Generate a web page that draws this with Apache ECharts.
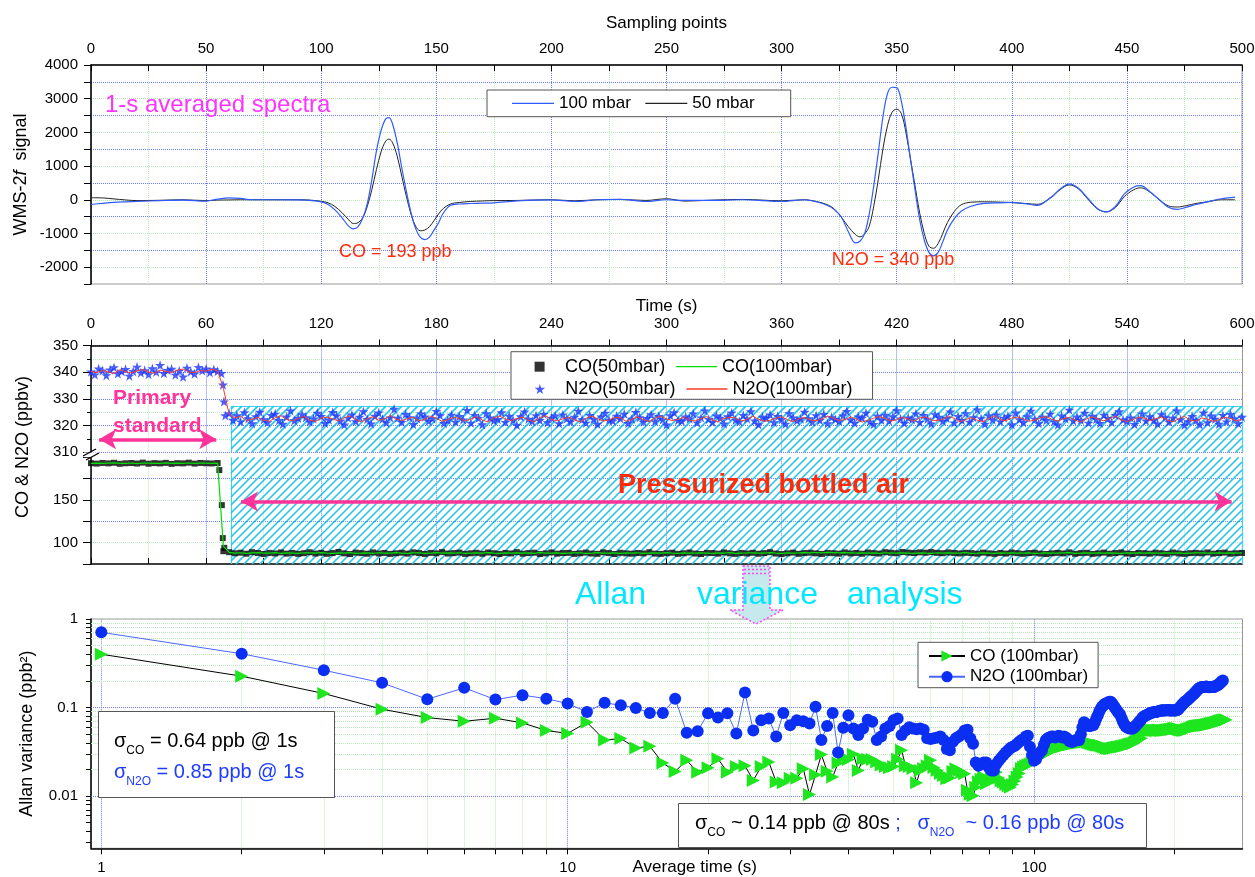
<!DOCTYPE html>
<html><head><meta charset="utf-8">
<script src="https://cdn.jsdelivr.net/npm/echarts@6/dist/echarts.min.js"></script>
<style>html,body{margin:0;padding:0;background:#fff}#c{width:1255px;height:877px}</style>
</head><body><div id="c"></div><script>
// ---------- Panel 1: WMS-2f spectra ----------
const specS = [0,5,10,15,20,30,40,50,55,60,65,70,80,90,95,100,103,106,109,112,114,116,118,120,122,124,126,128,129.5,131,133,135,137,139,141,143,145,147,149,151,153,156,160,165,170,175,185,200,210,220,230,241,250,258,270,283,300,310,315,320,323,326,329,332,334,336,338,340,342,344,346,348,350,352,354,356,358,360,362,364,366,368,370,372,375,378,382,388,395,400,406,411,417,421,425,429,433,437,441,445,449,453,456,460,464,468,472,476,480,485,491,497];
const spec50 = [60,55,25,-5,-25,-15,0,-25,-10,-5,0,0,0,0,-10,-45,-90,-200,-380,-600,-705,-680,-540,-200,300,900,1420,1740,1800,1690,1300,700,100,-420,-780,-920,-900,-800,-620,-420,-260,-130,-80,-50,-35,-25,-20,0,-30,0,10,-20,30,-40,-10,10,-30,0,-50,-150,-280,-520,-800,-1030,-1100,-1020,-800,-200,600,1500,2200,2600,2690,2560,2000,1200,400,-400,-1000,-1380,-1440,-1300,-1000,-680,-350,-150,-75,-60,-70,-85,-110,-135,60,300,440,320,20,-260,-360,-230,100,300,355,230,0,-180,-215,-170,-110,-60,0,0];
const spec100 = [-140,-105,-75,-60,-50,-25,-10,-40,20,55,40,0,0,-5,-20,-60,-140,-300,-530,-790,-866,-800,-550,-120,600,1450,2050,2400,2440,2250,1700,950,250,-380,-850,-1110,-1180,-1110,-900,-680,-400,-170,-125,-110,-100,-90,-35,-5,-50,0,10,-50,0,-20,-20,0,-50,0,-60,-170,-300,-520,-950,-1280,-1230,-1020,-450,400,1400,2450,3150,3340,3330,2930,2150,1200,280,-600,-1200,-1560,-1663,-1560,-1250,-905,-560,-340,-200,-105,-90,-80,-118,-165,75,320,470,340,50,-250,-360,-200,180,380,420,240,10,-220,-285,-220,-140,-60,30,80];

// ---------- Panel 2: time series (N2O 50 mbar every 2 s, others every 3 s) ----------
const n2o50Step = 2;
const n2o50 = [340.2,339.1,341.3,340.6,338.8,340.9,341.8,339.5,340.3,341.1,338.6,340.4,342.0,339.8,340.7,339.2,341.4,340.1,342.6,339.6,340.8,341.2,339.0,340.5,338.3,341.6,340.2,339.4,341.9,340.6,341.3,339.9,341.0,340.4,
339.6,323.8,
324.6,322.1,323.8,321.5,324.9,322.7,320.8,323.4,325.1,322.3,
321.2,323.9,324.4,322.0,320.6,323.3,325.6,321.9,322.8,324.2,
323.1,321.4,322.6,324.7,323.5,320.9,322.2,325.0,323.7,321.8,
320.3,322.9,324.1,321.6,323.2,325.3,322.4,320.7,323.6,324.8,
322.5,321.1,323.0,326.2,322.9,321.3,324.3,323.1,320.5,322.7,
324.5,323.3,321.7,322.6,325.4,323.8,320.9,322.0,324.0,321.4,
323.5,322.2,325.8,321.0,323.9,322.8,320.4,324.6,323.0,321.9,
322.4,324.9,321.3,323.6,322.1,320.2,323.4,325.2,322.5,321.6,
323.8,322.0,324.3,321.2,322.9,323.7,320.8,324.1,322.6,321.5,
323.2,325.5,322.3,321.0,323.9,322.4,320.6,323.3,324.7,322.1,
321.8,323.6,322.7,324.4,320.9,322.5,325.0,323.1,321.4,322.8,
324.2,321.6,323.5,322.2,320.3,323.8,324.9,322.0,321.7,323.3,
322.6,324.5,321.1,323.0,325.6,322.4,321.3,323.7,322.9,320.7,
323.4,324.8,322.1,321.5,323.9,322.6,325.3,321.8,320.4,323.2,
322.8,324.1,321.2,323.5,322.3,320.6,324.6,323.0,321.9,322.5,
325.1,322.7,321.4,323.8,322.0,324.3,320.8,323.1,322.4,321.6,
323.7,325.4,322.2,321.0,323.3,322.9,324.7,321.5,320.5,323.6,
322.1,324.0,321.8,323.4,325.7,322.6,320.9,323.0,322.3,324.5,
321.3,323.9,322.5,320.7,324.2,323.2,321.7,322.8,325.2,321.1,
323.5,322.0,324.6,321.4,323.1,326.0,322.7,320.6,323.8,322.2,
324.1,321.6,322.9,323.6,320.4,324.8,322.3,321.2,323.4,325.5,
322.5,320.8,323.2,322.0,324.4,321.5,320.3,323.7,322.6,325.9,
321.9,323.3,322.1,324.7,321.0,323.6,322.4,320.9,324.0,322.8,
321.3,323.9,325.3,322.2,321.7,323.0,320.5,322.6,324.5,321.8,
323.4,322.1,320.7,324.2,323.1,321.4,322.9,325.6,322.3,320.2,
321.6,323.5,322.0,320.4,324.8,321.2,323.7,322.5,320.6,323.9,
321.5,324.3,322.7,320.8,323.2];
const n2o50TransT = [68.8, 69.3];
const n2o50TransV = [335.3, 329.0];

const stepB = 3;
const n2o100 = [340.3,339.8,340.6,340.1,339.5,340.9,340.2,339.7,340.5,341.0,340.0,339.6,340.8,340.3,339.9,340.7,341.2,340.1,339.8,340.6,340.4,341.1,340.5,
334.0,324.2,
322.8,323.5,321.9,322.4,323.1,322.0,321.6,322.9,323.7,322.3,
321.8,322.6,323.4,322.1,321.5,322.8,323.2,322.5,321.7,322.9,
323.6,322.2,321.4,322.7,323.3,322.0,322.5,323.8,322.4,321.9,
322.6,323.1,321.8,322.3,323.5,322.7,321.6,322.2,323.0,322.8,
321.7,322.5,323.4,322.1,321.3,322.9,323.6,322.4,321.9,322.6,
323.2,322.0,321.5,322.8,323.7,322.3,321.8,322.5,323.1,322.2,
321.4,322.7,323.5,322.6,321.7,322.1,323.0,322.9,321.6,322.4,
323.3,322.2,321.5,322.8,323.6,322.5,321.9,322.3,323.2,322.0,
321.8,322.6,323.4,322.1,321.4,322.7,323.1,322.9,321.7,322.3,
323.5,322.4,321.6,322.0,322.8,323.3,322.2,321.5,322.6,323.0,
322.1,321.8,322.5,323.6,322.7,321.9,322.3,323.2,322.4,321.3,
322.0,322.8,323.4,322.6,321.7,322.2,323.1,322.5,321.6,322.9,
323.3,322.1,321.8,322.4,323.5,322.7,321.4,322.3,323.0,322.0,
321.5,322.6,323.7,322.2,321.9,322.8,323.2,322.5,321.6,322.1,
322.9,323.4,322.3,321.7,322.6,323.1,322.0,321.3,322.5,323.3,
322.4,321.8,322.7,323.6,322.2,321.5,322.3,323.0,322.8,321.9,
322.6,323.2,322.1,321.4,322.5,323.5,322.0,321.7,322.9,322.4,
321.6,322.2,323.1,322.7,321.8,322.3];
const co50 = [193.1,192.6,193.4,192.9,193.6,192.4,193.0,193.3,192.7,193.8,192.5,193.2,192.8,193.5,192.3,193.1,192.9,193.7,192.6,193.4,193.0,192.8,193.3,
90.0,88.9,
87.6,88.3,87.1,88.9,87.9,86.8,88.1,87.4,88.6,87.2,
88.0,86.9,87.7,88.8,87.3,88.2,87.0,87.9,89.1,87.5,
86.7,88.4,87.8,87.1,88.6,87.4,88.0,86.9,87.6,88.3,
87.2,88.7,87.9,86.8,88.1,87.5,89.0,87.3,87.8,88.4,
86.9,87.6,88.2,87.0,88.5,87.7,86.8,88.0,87.4,88.9,
87.1,87.8,88.3,86.7,87.5,88.6,87.2,87.9,88.1,86.9,
87.6,88.4,87.3,87.0,88.7,87.8,86.8,88.2,87.5,87.1,
88.0,87.4,88.8,87.2,86.9,87.7,88.3,87.0,87.6,88.5,
87.3,86.8,88.1,87.9,87.2,88.6,87.5,86.9,88.0,87.4,
88.2,87.1,87.8,88.9,87.3,86.7,87.6,88.4,87.0,87.9,
88.3,87.5,86.9,88.1,87.7,87.2,88.6,87.4,88.0,87.1,
88.5,87.8,87.3,88.9,88.2,87.6,89.1,88.4,87.9,88.7,
88.3,89.0,88.1,87.7,88.6,88.0,87.4,88.2,87.8,87.1,
88.4,87.6,86.9,88.0,87.3,88.5,87.7,87.0,87.9,88.3,
87.2,86.8,87.6,88.1,87.4,88.7,87.0,87.8,88.2,86.9,
87.5,88.4,87.1,87.9,88.6,87.3,86.8,88.0,87.7,87.2,
88.3,87.6,87.0,88.5,87.4,86.9,87.8,88.1,87.5,88.6,
87.2,87.9,88.4,87.1,87.7,88.0];
const co50TransT = [66.9, 68.2, 68.7, 69.5];
const co50TransV = [185, 144, 105.4, 94];
const co100 = [193.0,193.2,192.8,193.1,193.4,192.9,193.0,193.3,192.7,193.1,193.2,192.9,193.0,193.4,192.8,193.1,193.0,193.3,192.9,193.2,193.1,192.8,193.2,
96.0,88.6,
87.8,88.2,87.6,88.0,88.4,87.7,87.9,88.3,87.5,88.1,
87.9,87.6,88.2,88.0,87.7,88.4,87.8,87.5,88.1,87.9,
88.3,87.6,87.8,88.0,87.4,88.2,87.9,87.7,88.3,87.8,
87.6,88.1,88.0,87.5,87.9,88.4,87.7,88.0,87.8,88.2,
87.6,87.9,88.1,87.7,88.3,87.8,87.5,88.0,87.9,88.2,
87.7,88.0,87.6,88.3,87.9,87.8,88.1,87.5,87.9,88.2,
88.0,87.6,87.8,88.4,87.7,87.9,88.1,87.6,88.0,87.8,
88.2,87.5,87.9,88.1,87.7,88.3,87.8,87.6,88.0,87.9,
87.7,88.2,87.9,87.5,88.1,87.8,88.3,87.6,87.9,88.0,
88.2,87.7,87.9,88.4,87.8,87.6,88.1,87.9,88.0,88.3,
88.1,88.5,88.2,88.6,88.3,88.0,88.4,88.2,87.9,88.1,
87.8,88.0,87.6,88.2,87.9,87.7,88.1,87.8,87.5,88.0,
87.9,87.6,88.2,87.8,88.0,87.7,87.9,88.3,87.6,87.8,
88.1,87.9,87.5,88.0,87.8,88.2,87.7,87.9,88.1,87.6,
87.8,88.2,87.9,87.7,88.0,88.3,87.6,87.9,88.1,87.8,
88.0,87.7,88.2,87.9,87.5,88.1,87.8,88.0,87.9,88.2,
87.7,87.9,88.1,87.8,88.0,87.6,87.9,88.2,88.0,87.7,
87.9,88.1,87.8,88.0,87.9,88.2];
// annotation regions (data units): [tStart, yTop, tEnd, yBottom]
const bottledUpper = [73, 327.3, 600, 310];
const bottledLower = [73, 200, 600, 75];
const primaryArrowY = 314.85, bottledArrowY = 148.2;

// ---------- Panel 3: Allan variance, tau = 1,2,3,... s ----------
const allanN2O = [0.707,0.405,0.264,0.19,0.124,0.167,0.123,0.138,0.126,0.111,
0.089,0.113,0.106,0.099,0.087,0.087,0.126,0.052,0.054,0.086,
0.077,0.086,0.051,0.148,0.055,0.072,0.075,0.047,0.087,0.063,
0.072,0.070,0.066,0.102,0.043,0.062,0.087,0.031,0.059,0.082,
0.058,0.049,0.058,0.073,0.069,0.043,0.047,0.058,0.062,0.072,
0.075,0.049,0.055,0.060,0.058,0.057,0.058,0.056,0.045,0.044,
0.045,0.046,0.047,0.043,0.034,0.033,0.041,0.045,0.047,0.050,
0.055,0.056,0.045,0.039,0.024,0.022,0.023,0.024,0.024,0.021,
0.0195,0.0195,0.023,0.025,0.027,0.029,0.031,0.033,0.035,0.036,
0.037,0.039,0.041,0.043,0.044,0.047,0.048,0.036,0.029,0.025,
0.026,0.029,0.031,0.033,0.038,0.043,0.045,0.046,0.047,0.047,
0.046,0.047,0.048,0.047,0.046,0.047,0.046,0.044,0.042,0.041,
0.041,0.042,0.043,0.043,0.043,0.050,0.060,0.068,0.066,0.064,
0.062,0.062,0.063,0.063,0.068,0.075,0.082,0.090,0.097,0.103,
0.107,0.110,0.111,0.114,0.116,0.116,0.112,0.106,0.100,0.095,
0.090,0.087,0.083,0.076,0.070,0.065,0.062,0.060,0.059,0.058,
0.058,0.058,0.058,0.060,0.062,0.064,0.066,0.069,0.071,0.074,
0.077,0.079,0.081,0.082,0.083,0.084,0.086,0.087,0.088,0.088,
0.089,0.089,0.089,0.090,0.091,0.092,0.092,0.093,0.093,0.092,
0.093,0.093,0.093,0.094,0.093,0.092,0.093,0.093,0.093,0.092,
0.093,0.093,0.094,0.096,0.099,0.102,0.105,0.108,0.111,0.114,
0.117,0.119,0.121,0.124,0.127,0.130,0.133,0.136,0.139,0.142,
0.146,0.150,0.154,0.158,0.162,0.165,0.167,0.169,0.170,0.171,
0.171,0.171,0.172,0.173,0.172,0.171,0.170,0.170,0.171,0.171,
0.172,0.172,0.171,0.172,0.174,0.176,0.178,0.180,0.183,0.186,
0.190,0.194,0.198,0.202];
const allanCO = [0.40,0.226,0.144,0.0957,0.077,0.070,0.0757,0.067,0.055,0.051,
0.068,0.043,0.0446,0.035,0.0365,0.0236,0.019,0.0253,0.0186,0.0209,
0.0264,0.0186,0.0216,0.022,0.015,0.0216,0.0242,0.0144,0.0141,0.0159,
0.0159,0.0204,0.0104,0.0174,0.0294,0.0191,0.0164,0.0236,0.0276,0.0258,
0.0296,0.0195,0.0264,0.026,0.0258,0.0242,0.0225,0.0216,0.0209,0.0216,
0.026,0.033,0.022,0.0216,0.0205,0.0141,0.0195,0.0205,0.022,0.0253,
0.021,0.0195,0.018,0.0171,0.0157,0.016,0.019,0.0204,0.0195,0.0185,
0.0179,0.0116,0.0105,0.0101,0.0126,0.0145,0.0155,0.0164,0.0138,0.0145,
0.016,0.0175,0.0186,0.016,0.0148,0.0144,0.0135,0.013,0.0126,0.0135,
0.0148,0.0164,0.018,0.0205,0.0213,0.022,0.0225,0.023,0.0238,0.0245,
0.0262,0.027,0.0278,0.0285,0.0292,0.030,0.031,0.032,0.0328,0.0335,
0.034,0.035,0.0355,0.0358,0.0362,0.0368,0.0372,0.0378,0.038,0.0385,
0.039,0.0392,0.0395,0.0398,0.040,0.0403,0.0405,0.0408,0.041,0.0405,
0.040,0.0395,0.039,0.0385,0.038,0.0378,0.0376,0.0375,0.037,0.0365,
0.036,0.0355,0.035,0.0346,0.0343,0.0345,0.0347,0.035,0.0352,0.0355,
0.0357,0.0358,0.036,0.0363,0.0366,0.037,0.0373,0.0376,0.038,0.0384,
0.0388,0.039,0.0392,0.040,0.041,0.042,0.043,0.044,0.0446,0.045,
0.052,0.058,0.057,0.056,0.0555,0.0553,0.0553,0.0555,0.0553,0.0553,
0.0555,0.0552,0.055,0.0553,0.0556,0.0553,0.055,0.0552,0.0555,0.0553,
0.0553,0.0556,0.0558,0.056,0.0563,0.0566,0.0568,0.057,0.0575,0.0578,
0.058,0.0578,0.0575,0.057,0.0565,0.056,0.0558,0.0555,0.0553,0.0553,
0.0555,0.056,0.0565,0.057,0.0575,0.058,0.0585,0.059,0.0598,0.0605,
0.061,0.0613,0.0616,0.062,0.0622,0.0624,0.0626,0.0628,0.063,0.063,
0.063,0.0632,0.0635,0.0638,0.064,0.0643,0.0646,0.065,0.0654,0.0658,
0.066,0.0663,0.0666,0.067,0.0675,0.068,0.0685,0.069,0.0695,0.07,
0.0705,0.071,0.0715,0.0719,0.072,0.0722,0.0725,0.0728];
const allanTickX = [1,2,3,4,5,6,7,8,9,10,20,30,40,50,60,70,80,90,100,200];
const allanMajorX = [1,10,100];
const allanTickY = [0.003,0.004,0.005,0.006,0.007,0.008,0.009,0.01,0.02,0.03,0.04,0.05,0.06,0.07,0.08,0.09,0.1,0.2,0.3,0.4,0.5,0.6,0.7,0.8,0.9,1];
const allanMajorY = [0.01,0.1,1];

// ---------- styling ----------
const FONT = '"Liberation Sans", Arial, Helvetica, sans-serif';
const BLUE_G = '#6f7dff', GREEN_G = '#b9e9b9';
const blueLine = {color: BLUE_G, type: 'dotted', width: 1};
const greenLine = {color: GREEN_G, type: 'dotted', width: 1};
const STAR = 'path://M50,2L61.8,38.2L99.9,38.2L69.1,60.6L80.9,96.8L50,74.4L19.1,96.8L30.9,60.6L0.1,38.2L38.2,38.2Z';
const SQUARE = 'path://M0,0L10,0L10,10L0,10Z';
const LINEICON = 'path://M0,0L42,0L42,1.3L0,1.3Z';
const HATCH = '#22c6ec';

// hatch drawn in pixel space from the corners given by the axes
function renderHatch(params, api) {
  const p0 = api.coord([api.value(0), api.value(1)]);
  const p1 = api.coord([api.value(2), api.value(3)]);
  const x0 = Math.min(p0[0], p1[0]), x1 = Math.max(p0[0], p1[0]);
  const y0 = Math.min(p0[1], p1[1]), y1 = Math.max(p0[1], p1[1]);
  const step = 8;
  let d = '';
  for (let c = Math.floor((x0 + y0) / step) * step; c <= x1 + y1; c += step) {
    const xa = Math.max(x0, c - y1), xb = Math.min(x1, c - y0);
    if (xb <= xa) continue;
    d += 'M' + xa.toFixed(2) + ',' + (c - xa).toFixed(2) + 'L' + xb.toFixed(2) + ',' + (c - xb).toFixed(2);
  }
  return {type: 'path', shape: {pathData: d}, style: {fill: 'none', stroke: HATCH, lineWidth: 1.6}};
}

function logLabel(v) {
  const l = Math.log10(v), r = Math.round(l);
  if (Math.abs(l - r) > 1e-6) return '';
  return r >= 0 ? String(Math.pow(10, r)) : Math.pow(10, r).toFixed(-r);
}
const axBlack = {show: true, onZero: false, lineStyle: {color: '#000', width: 1.5}};
const lbl = (m, extra) => Object.assign({fontSize: 15, color: '#000', margin: m, fontFamily: FONT}, extra || {});

const chart = echarts.init(document.getElementById('c'), null, {renderer: 'canvas'});

const gridMarks = [];
allanTickX.forEach(v => gridMarks.push({xAxis: v, lineStyle: allanMajorX.includes(v) ? blueLine : greenLine}));
allanTickY.filter(v => v < 1).forEach(v => gridMarks.push({yAxis: v, lineStyle: allanMajorY.includes(v) ? blueLine : greenLine}));

const sigmaRich = {
  k: {fill: '#000', fontSize: 20, lineHeight: 31, fontFamily: FONT},
  ks: {fill: '#000', fontSize: 12, lineHeight: 12, verticalAlign: 'bottom', fontFamily: FONT},
  b: {fill: '#1e3cff', fontSize: 20, lineHeight: 31, fontFamily: FONT},
  bs: {fill: '#1e3cff', fontSize: 12, lineHeight: 12, verticalAlign: 'bottom', fontFamily: FONT}
};
const hatchSeries = (xi, yi, box, borders) => ({
  type: 'custom', xAxisIndex: xi, yAxisIndex: yi, silent: true, z: 1, renderItem: renderHatch, data: [box],
  itemStyle: {color: HATCH},
  markLine: {silent: true, z: 1, symbol: 'none', label: {show: false}, lineStyle: {color: '#3fd4ee', width: 1.2, type: 'solid'}, data: borders}
});

const option = {
  animation: false,
  textStyle: {fontFamily: FONT, color: '#000'},
  grid: [
    {left: 91, top: 65, width: 1151, height: 219, show: true, borderColor: '#999', borderWidth: 1, outerBoundsMode: 'none'},
    {left: 91, top: 345.5, width: 1151, height: 106.8, outerBoundsMode: 'none'},
    {left: 91, top: 457.3, width: 1151, height: 106.75, outerBoundsMode: 'none'},
    {left: 91, top: 619, width: 1151.5, height: 229.3, show: true, borderColor: '#999', borderWidth: 1, outerBoundsMode: 'none'}
  ],
  xAxis: [
    {gridIndex: 0, type: 'value', position: 'top', min: 0, max: 500, interval: 50,
     name: 'Sampling points', nameLocation: 'middle', nameGap: 33, nameMoveOverlap: false,
     nameTextStyle: {fontSize: 17, color: '#000'},
     axisLine: axBlack, axisTick: {show: true, inside: true, length: 6, lineStyle: {color: '#000'}},
     minorTick: {show: true, splitNumber: 2, length: 6, lineStyle: {color: '#000'}},
     axisLabel: lbl(9), splitLine: {show: true, lineStyle: blueLine}, minorSplitLine: {show: true, lineStyle: greenLine}},
    {gridIndex: 1, type: 'value', position: 'top', min: 0, max: 600, interval: 60,
     name: 'Time (s)', nameLocation: 'middle', nameGap: 31, nameMoveOverlap: false,
     nameTextStyle: {fontSize: 17, color: '#000'},
     axisLine: axBlack, axisTick: {show: true, inside: false, length: 6, lineStyle: {color: '#000'}},
     minorTick: {show: true, splitNumber: 2, length: 6, lineStyle: {color: '#000'}},
     axisLabel: lbl(14), splitLine: {show: true, lineStyle: blueLine}, minorSplitLine: {show: true, lineStyle: greenLine}},
    {gridIndex: 2, type: 'value', position: 'bottom', min: 0, max: 600, interval: 60,
     axisLine: axBlack, axisTick: {show: true, inside: true, length: 6, lineStyle: {color: '#000'}},
     minorTick: {show: true, splitNumber: 2, length: 6, lineStyle: {color: '#000'}},
     axisLabel: {show: false}, splitLine: {show: true, lineStyle: blueLine}, minorSplitLine: {show: true, lineStyle: greenLine}},
    {gridIndex: 3, type: 'log', logBase: 10, min: 0.9504, max: 279.9, position: 'bottom',
     name: 'Average time (s)', nameLocation: 'middle', nameGap: 11, nameMoveOverlap: false,
     nameTextStyle: {fontSize: 17, color: '#000', padding: [0, 0, 0, 56]},
     axisLine: axBlack, axisTick: {show: true, inside: false, length: 6, customValues: allanTickX, lineStyle: {color: '#000'}},
     axisLabel: lbl(12, {formatter: logLabel}), splitLine: {show: false}}
  ],
  yAxis: [
    {gridIndex: 0, type: 'value', min: -2500, max: 4000, interval: 500,
     name: '{n|WMS-2}{i|f}{n|  signal}', nameLocation: 'middle', nameGap: 61, nameRotate: 90, nameMoveOverlap: false,
     nameTextStyle: {rich: {n: {fontSize: 18, color: '#000', fontFamily: FONT}, i: {fontSize: 18, fontStyle: 'italic', color: '#000', fontFamily: FONT}}},
     axisLine: axBlack, axisTick: {show: true, inside: false, length: 7, lineStyle: {color: '#000'}},
     axisLabel: lbl(13, {formatter: v => (v % 1000 === 0 ? String(v) : '')}),
     splitLine: {show: true, showMinLine: false, showMaxLine: false, lineStyle: {color: [GREEN_G, BLUE_G], type: 'dotted', width: 1}}},
    {gridIndex: 1, type: 'value', min: 310, max: 350, interval: 10,
     axisLine: axBlack, axisTick: {show: true, inside: false, length: 8, lineStyle: {color: '#000'}},
     minorTick: {show: true, splitNumber: 2, length: 4, lineStyle: {color: '#000'}},
     axisLabel: lbl(13), splitLine: {show: true, lineStyle: blueLine}, minorSplitLine: {show: true, lineStyle: greenLine}},
    {gridIndex: 2, type: 'value', min: 75, max: 200, interval: 25,
     axisLine: axBlack, axisTick: {show: true, inside: false, length: 8, lineStyle: {color: '#000'}},
     axisLabel: lbl(13, {formatter: v => (v === 100 || v === 150 ? String(v) : '')}),
     splitLine: {show: true, showMinLine: false, showMaxLine: false, lineStyle: {color: [GREEN_G, BLUE_G], type: 'dotted', width: 1}}},
    {gridIndex: 3, type: 'log', logBase: 10, min: 0.00257, max: 1,
     name: 'Allan variance (ppb²)', nameLocation: 'middle', nameGap: 55, nameRotate: 90, nameMoveOverlap: false,
     nameTextStyle: {fontSize: 18, color: '#000'},
     axisLine: axBlack, axisTick: {show: true, inside: false, length: 5, customValues: allanTickY, lineStyle: {color: '#000'}},
     axisLabel: lbl(13, {formatter: logLabel}), splitLine: {show: false}},
    {gridIndex: 1, type: 'value', position: 'right', min: 310, max: 350,
     axisLine: {show: true, onZero: false, lineStyle: {color: '#999', width: 1}}, axisTick: {show: false}, axisLabel: {show: false}, splitLine: {show: false}},
    {gridIndex: 2, type: 'value', position: 'right', min: 75, max: 200,
     axisLine: {show: true, onZero: false, lineStyle: {color: '#999', width: 1}}, axisTick: {show: false}, axisLabel: {show: false}, splitLine: {show: false}}
  ],
  legend: [
    {data: [{name: '100 mbar', icon: LINEICON}, {name: '50 mbar', icon: LINEICON}], left: 487, top: 90, orient: 'horizontal', selectedMode: false,
     padding: [3.3, 36, 3.4, 25], itemGap: 14.5, itemWidth: 42, itemHeight: 12,
     textStyle: {fontSize: 17, lineHeight: 20, color: '#000'}, borderColor: '#555', borderWidth: 1, backgroundColor: '#fff'},
    {data: [{name: 'CO(50mbar)', icon: SQUARE}, {name: 'CO(100mbar)', icon: LINEICON}], left: 511, top: 351.7, orient: 'horizontal', selectedMode: false,
     padding: [4, 40.4, 21.6, 23.6], itemGap: 11, itemWidth: 41, itemHeight: 10,
     textStyle: {fontSize: 18, lineHeight: 22, color: '#000'}, borderColor: '#555', borderWidth: 1, backgroundColor: '#fff'},
    {data: [{name: 'N2O(50mbar)', icon: STAR}, {name: 'N2O(100mbar)', icon: LINEICON}], left: 511, top: 378, orient: 'horizontal', selectedMode: false,
     padding: [0, 18, 0, 23.6], itemGap: 11, itemWidth: 41, itemHeight: 10,
     textStyle: {fontSize: 18, lineHeight: 22, color: '#000'}},
    {data: ['CO (100mbar)', 'N2O (100mbar)'], left: 918, top: 642.3, orient: 'vertical', selectedMode: false,
     padding: [3.7, 10, 1, 10], itemGap: 0.7, itemWidth: 36, itemHeight: 14,
     textStyle: {fontSize: 17, lineHeight: 20, color: '#000'}, borderColor: '#555', borderWidth: 1, backgroundColor: '#fff'}
  ],
  series: [
    // panel 1
    {name: '50 mbar', type: 'line', xAxisIndex: 0, yAxisIndex: 0, data: specS.map((s, i) => [s, spec50[i]]),
     smooth: 0.35, symbol: 'none', lineStyle: {color: '#222', width: 1}, itemStyle: {color: '#222'}},
    {name: '100 mbar', type: 'line', xAxisIndex: 0, yAxisIndex: 0, data: specS.map((s, i) => [s, spec100[i]]),
     smooth: 0.35, symbol: 'none', lineStyle: {color: '#2f5bff', width: 1.2}, itemStyle: {color: '#2f5bff'}},
    // panel 2 hatched "bottled air" region
    hatchSeries(1, 1, bottledUpper,
      [[{coord: [bottledUpper[0], bottledUpper[1]]}, {coord: [bottledUpper[0], bottledUpper[3]]}],
       [{coord: [bottledUpper[0], bottledUpper[1]]}, {coord: [bottledUpper[2], bottledUpper[1]]}],
       [{coord: [bottledUpper[2], bottledUpper[1]]}, {coord: [bottledUpper[2], bottledUpper[3]]}]]),
    hatchSeries(2, 2, bottledLower,
      [[{coord: [bottledLower[0], bottledLower[1]]}, {coord: [bottledLower[0], bottledLower[3]]}],
       [{coord: [bottledLower[2], bottledLower[1]]}, {coord: [bottledLower[2], bottledLower[3]]}]]),
    // panel 2 data
    {name: 'N2O(50mbar)', type: 'scatter', xAxisIndex: 1, yAxisIndex: 1, symbol: STAR, symbolSize: 10, z: 3,
     data: n2o50.map((v, i) => [i * n2o50Step, v]), itemStyle: {color: '#1a33ff'}},
    {name: 'N2O(50mbar)', type: 'scatter', xAxisIndex: 1, yAxisIndex: 1, symbol: STAR, symbolSize: 10, z: 3,
     data: n2o50TransT.map((t, i) => [t, n2o50TransV[i]]), itemStyle: {color: '#1a33ff'}},
    {name: 'N2O(100mbar)', type: 'line', xAxisIndex: 1, yAxisIndex: 1, symbol: 'none', z: 4,
     data: n2o100.map((v, i) => [i * stepB, v]), lineStyle: {color: '#ff3b1f', width: 1}, itemStyle: {color: '#ff3b1f'}},
    {name: 'CO(50mbar)', type: 'scatter', xAxisIndex: 2, yAxisIndex: 2, symbol: 'rect', symbolSize: 6, z: 3,
     data: co50.map((v, i) => [i * stepB, v]), itemStyle: {color: '#000'}},
    {name: 'CO(50mbar)', type: 'scatter', xAxisIndex: 2, yAxisIndex: 2, symbol: 'rect', symbolSize: 6, z: 3,
     data: co50TransT.map((t, i) => [t, co50TransV[i]]), itemStyle: {color: '#000'}},
    {name: 'CO(100mbar)', type: 'line', xAxisIndex: 2, yAxisIndex: 2, symbol: 'none', z: 4,
     data: co100.map((v, i) => [i * stepB, v]), lineStyle: {color: '#00dd00', width: 1.2}, itemStyle: {color: '#00dd00'}},
    // panel 2 arrows
    {type: 'line', xAxisIndex: 1, yAxisIndex: 1, data: [], silent: true, symbol: 'none',
     markLine: {silent: true, z: 6, label: {show: false}, symbol: ['arrow', 'arrow'], symbolSize: [15, 17],
       lineStyle: {color: '#ff3399', width: 3.5, type: 'solid'}, itemStyle: {color: '#ff3399'},
       data: [[{coord: [4.2, primaryArrowY]}, {coord: [65.3, primaryArrowY]}]]}},
    {type: 'line', xAxisIndex: 2, yAxisIndex: 2, data: [], silent: true, symbol: 'none',
     markLine: {silent: true, z: 6, label: {show: false}, symbol: ['arrow', 'arrow'], symbolSize: [15, 17],
       lineStyle: {color: '#ff3399', width: 3.5, type: 'solid'}, itemStyle: {color: '#ff3399'},
       data: [[{coord: [78.2, bottledArrowY]}, {coord: [594.6, bottledArrowY]}]]}},
    // panel 3 grid lines
    {type: 'line', xAxisIndex: 3, yAxisIndex: 3, data: [], silent: true, symbol: 'none', z: 1,
     markLine: {silent: true, z: 1, symbol: 'none', label: {show: false}, data: gridMarks}},
    // panel 3 data
    {name: 'CO (100mbar)', type: 'line', xAxisIndex: 3, yAxisIndex: 3, z: 3,
     data: allanCO.map((v, i) => [i + 1, v]), symbol: 'triangle', symbolRotate: -90, symbolSize: 13, showSymbol: true,
     itemStyle: {color: '#1ee61e'}, lineStyle: {color: '#000', width: 1}},
    {name: 'N2O (100mbar)', type: 'line', xAxisIndex: 3, yAxisIndex: 3, z: 3,
     data: allanN2O.map((v, i) => [i + 1, v]), symbol: 'circle', symbolSize: 12, showSymbol: true,
     itemStyle: {color: '#0b2ff2'}, lineStyle: {color: '#4a66ff', width: 1}}
  ],
  graphic: [
    {type: 'text', x: 105, y: 105, z: 10, style: {text: '1-s averaged spectra', fill: '#ff33ff', fontSize: 24, fontFamily: FONT, verticalAlign: 'middle'}},
    {type: 'text', x: 339, y: 251.7, z: 10, style: {text: 'CO = 193 ppb', fill: '#ff2a0a', fontSize: 18, fontFamily: FONT, verticalAlign: 'middle'}},
    {type: 'text', x: 831.7, y: 260, z: 10, style: {text: 'N2O = 340 ppb', fill: '#ff2a0a', fontSize: 18, fontFamily: FONT, verticalAlign: 'middle'}},
    {type: 'text', x: 113, y: 398, z: 10, style: {text: 'Primary', fill: '#ff3399', fontSize: 21, fontWeight: 'bold', fontFamily: FONT, verticalAlign: 'middle'}},
    {type: 'text', x: 113, y: 426, z: 10, style: {text: 'standard', fill: '#ff3399', fontSize: 21, fontWeight: 'bold', fontFamily: FONT, verticalAlign: 'middle'}},
    {type: 'text', x: 618, y: 486, z: 10, style: {text: 'Pressurized bottled air', fill: '#ff2a0a', fontSize: 27, fontWeight: 'bold', fontFamily: FONT, verticalAlign: 'middle'}},
    {type: 'text', x: 23, y: 447, rotation: Math.PI / 2, z: 10, style: {text: 'CO & N2O (ppbv)', fill: '#000', fontSize: 18, fontFamily: FONT, align: 'center', verticalAlign: 'middle'}},
    // break marks on the middle y axis
    {type: 'rect', z: 10, shape: {x: 84, y: 452.4, width: 14, height: 4.8}, style: {fill: '#fff'}},
    {type: 'line', z: 11, shape: {x1: 83, y1: 456, x2: 96, y2: 449}, style: {stroke: '#000', lineWidth: 1.3}},
    {type: 'line', z: 11, shape: {x1: 86, y1: 460, x2: 99, y2: 453}, style: {stroke: '#000', lineWidth: 1.3}},
    // down arrow
    {type: 'polygon', z: 10, shape: {points: [[743, 566], [770, 566], [770, 610], [783, 610], [756, 624], [730, 610], [743, 610]]},
     style: {fill: '#c6e9ee', stroke: '#ff44ff', lineWidth: 1.5, lineDash: [2, 2]}},
    {type: 'line', z: 10, shape: {x1: 744, y1: 569.5, x2: 769, y2: 569.5}, style: {stroke: '#ff44ff', lineWidth: 1.5, lineDash: [2, 2]}},
    {type: 'line', z: 10, shape: {x1: 744, y1: 573.5, x2: 769, y2: 573.5}, style: {stroke: '#ff44ff', lineWidth: 1.5, lineDash: [2, 2]}},
    {type: 'text', x: 575, y: 595, z: 11, style: {text: 'Allan', fill: '#00e8ff', fontSize: 32, fontFamily: FONT, verticalAlign: 'middle'}},
    {type: 'text', x: 697, y: 595, z: 11, style: {text: 'variance', fill: '#00e8ff', fontSize: 32, fontFamily: FONT, verticalAlign: 'middle'}},
    {type: 'text', x: 847, y: 595, z: 11, style: {text: 'analysis', fill: '#00e8ff', fontSize: 32, fontFamily: FONT, verticalAlign: 'middle'}},
    // sigma boxes
    {type: 'rect', z: 2, shape: {x: 98.5, y: 711.5, width: 236, height: 86}, style: {fill: '#fff', stroke: '#555', lineWidth: 1}},
    {type: 'text', x: 114, y: 725.5, z: 2, style: {
      text: '{k|σ}{ks|CO}{k| = 0.64 ppb @ 1s}\n{b|σ}{bs|N2O}{b| = 0.85 ppb @ 1s}', verticalAlign: 'top', fontFamily: FONT, rich: sigmaRich}},
    {type: 'rect', z: 2, shape: {x: 678.5, y: 803.5, width: 468, height: 44}, style: {fill: '#fff', stroke: '#555', lineWidth: 1}},
    {type: 'text', x: 695, y: 807.5, z: 2, style: {
      text: '{k|σ}{ks|CO}{k| ~ 0.14 ppb @ 80s}{b| ;   σ}{bs|N2O}{b|  ~ 0.16 ppb @ 80s}', verticalAlign: 'top', fontFamily: FONT, rich: sigmaRich}}
  ]
};
chart.setOption(option);
</script></body></html>
